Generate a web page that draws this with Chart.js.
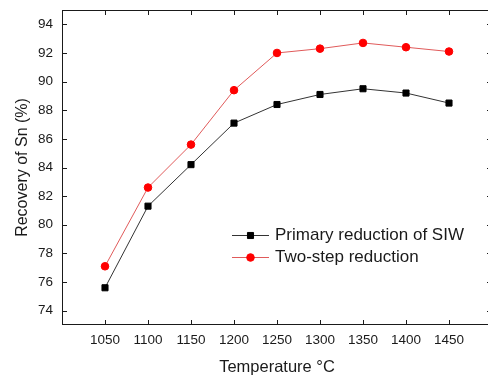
<!DOCTYPE html>
<html>
<head>
<meta charset="utf-8">
<script src="https://cdn.jsdelivr.net/npm/chart.js@4"></script>
<style>
  html, body { margin: 0; padding: 0; background: #fff; overflow: hidden; }
  #wrap { width: 488px; height: 379px; overflow: hidden; }
  #recoveryChart { width: 493px !important; height: 379px !important; }
</style>
</head>
<body>
<div id="wrap"><canvas id="recoveryChart" width="493" height="379"></canvas></div>
<script>
// Recovery of Sn vs. reduction temperature
// (canvas is wider than the window: the right frame line sits just off the picture)

const temperatures = [1050, 1100, 1150, 1200, 1250, 1300, 1350, 1400, 1450];
const primaryRecovery = [75.6, 81.3, 84.2, 87.1, 88.4, 89.1, 89.5, 89.2, 88.5];
const twoStepRecovery = [77.1, 82.6, 85.6, 89.4, 92.0, 92.3, 92.7, 92.4, 92.1];

const xTicks = [1050, 1100, 1150, 1200, 1250, 1300, 1350, 1400, 1450];
const yTicks = [74, 76, 78, 80, 82, 84, 86, 88, 90, 92, 94];

const FONT = 'Liberation Sans, Arial, sans-serif';
const INK = '#1a1a1a';

function toPoints(values) {
    return temperatures.map((t, i) => ({ x: t, y: values[i] }));
}

// frame + inward ticks on all four sides, Origin style
const framePlugin = {
    id: 'frame',
    afterDraw(chart) {
        const { ctx, chartArea: a, scales } = chart;
        ctx.save();
        ctx.strokeStyle = INK;
        ctx.lineWidth = 1;
        ctx.strokeRect(a.left + 0.5, a.top + 0.5, a.right - a.left - 1, a.bottom - a.top - 1);
        ctx.beginPath();
        xTicks.forEach(v => {
            const px = Math.round(scales.x.getPixelForValue(v)) + 0.5;
            ctx.moveTo(px, a.bottom); ctx.lineTo(px, a.bottom - 5);
            ctx.moveTo(px, a.top); ctx.lineTo(px, a.top + 5);
        });
        yTicks.forEach(v => {
            const py = Math.round(scales.y.getPixelForValue(v)) + 0.5;
            ctx.moveTo(a.left, py); ctx.lineTo(a.left + 5, py);
            ctx.moveTo(a.right, py); ctx.lineTo(a.right - 5, py);
        });
        ctx.stroke();
        ctx.restore();
    }
};

// legend sitting inside the plot
const insideLegend = {
    id: 'insideLegend',
    afterDraw(chart) {
        const { ctx } = chart;
        const x1 = 232, x2 = 269, textX = 275;
        const rows = [235, 257];
        ctx.save();
        chart.data.datasets.forEach((ds, i) => {
            const y = rows[i];
            ctx.strokeStyle = ds.borderColor;
            ctx.lineWidth = ds.borderWidth;
            ctx.beginPath();
            ctx.moveTo(x1, y + 0.5);
            ctx.lineTo(x2, y + 0.5);
            ctx.stroke();
            ctx.fillStyle = ds.pointBackgroundColor;
            ctx.strokeStyle = ds.pointBorderColor;
            Chart.helpers.drawPoint(ctx, {
                pointStyle: ds.pointStyle,
                radius: ds.pointRadius,
                borderWidth: 1,
                rotation: 0
            }, (x1 + x2) / 2, y + 0.5);
            ctx.fillStyle = INK;
            ctx.font = '17px ' + FONT;
            ctx.textBaseline = 'middle';
            ctx.fillText(ds.label, textX, y);
        });
        ctx.restore();
    }
};

new Chart(document.getElementById('recoveryChart'), {
    type: 'line',
    data: {
        datasets: [{
            label: 'Primary reduction of SIW',
            data: toPoints(primaryRecovery),
            borderColor: '#333333',
            borderWidth: 1,
            pointStyle: 'rect',
            pointRadius: 4.3,
            pointBackgroundColor: '#000000',
            pointBorderColor: '#000000',
            pointBorderWidth: 1
        }, {
            label: 'Two-step reduction',
            data: toPoints(twoStepRecovery),
            borderColor: '#e05a5a',
            borderWidth: 1,
            pointStyle: 'circle',
            pointRadius: 3.8,
            pointBackgroundColor: '#ff0000',
            pointBorderColor: '#ff0000',
            pointBorderWidth: 1
        }]
    },
    options: {
        responsive: false,
        animation: false,
        layout: { autoPadding: false, padding: { top: 10, right: 1, left: 0, bottom: 0 } },
        plugins: {
            legend: { display: false },
            tooltip: { enabled: false }
        },
        scales: {
            x: {
                type: 'linear',
                min: 1000,
                max: 1500,
                afterBuildTicks: scale => { scale.ticks = xTicks.map(v => ({ value: v })); },
                afterFit: scale => {
                    scale.height = 54;
                    scale.paddingLeft = 0;
                    scale.paddingRight = 0;
                },
                grid: { display: false, drawTicks: false },
                border: { display: false },
                ticks: {
                    padding: 7,
                    color: INK,
                    font: { family: FONT, size: 13.5 },
                    callback: value => String(value)
                },
                title: {
                    display: true,
                    text: 'Temperature °C',
                    color: INK,
                    font: { family: FONT, size: 16.5 },
                    padding: { top: 0, bottom: 2 }
                }
            },
            y: {
                min: 73,
                max: 95,
                afterBuildTicks: scale => { scale.ticks = yTicks.map(v => ({ value: v })); },
                afterFit: scale => {
                    scale.width = 62;
                    scale.paddingTop = 0;
                    scale.paddingBottom = 0;
                },
                grid: { display: false, drawTicks: false },
                border: { display: false },
                ticks: {
                    padding: 9,
                    color: INK,
                    font: { family: FONT, size: 13.5 }
                },
                title: {
                    display: true,
                    text: 'Recovery of Sn (%)',
                    color: INK,
                    font: { family: FONT, size: 16 },
                    padding: { top: 13, bottom: 0 }
                }
            }
        }
    },
    plugins: [framePlugin, insideLegend]
});
</script>
</body>
</html>
